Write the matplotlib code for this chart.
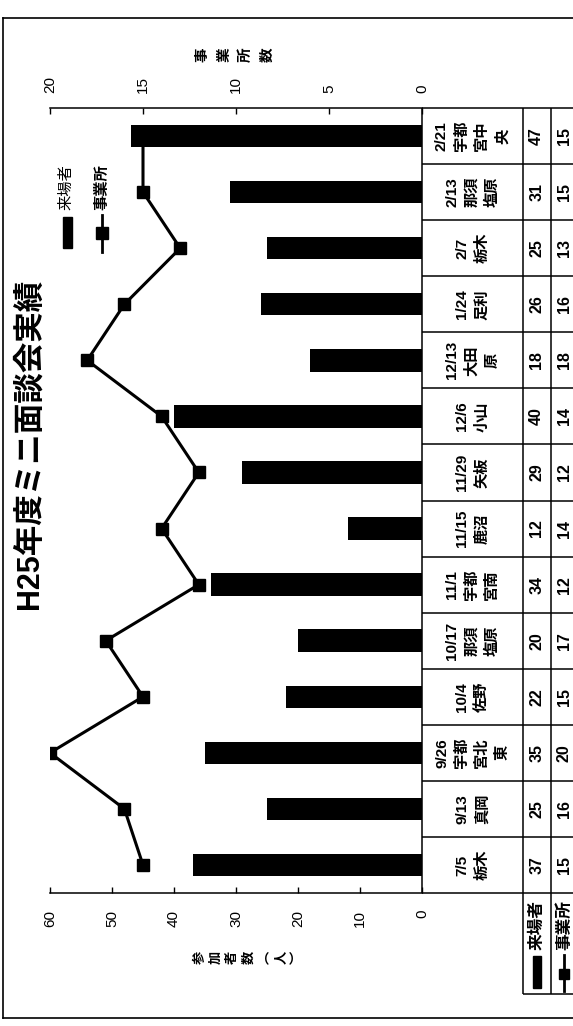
import matplotlib
matplotlib.use("Agg")
import matplotlib.pyplot as plt
from matplotlib.patches import Rectangle
from matplotlib.lines import Line2D
import numpy as np

plt.rcParams["font.family"] = ["Liberation Sans", "Noto Sans CJK JP", "DejaVu Sans"]
JP = ["Noto Sans CJK JP", "DejaVu Sans"]

# data (one column per session, oldest first)
dates = ["7/5", "9/13", "9/26", "10/4", "10/17", "11/1", "11/15",
         "11/29", "12/6", "12/13", "1/24", "2/7", "2/13", "2/21"]
places = ["栃木", "真岡", "宇都\n宮北\n東", "佐野", "那須\n塩原", "宇都\n宮南", "鹿沼",
          "矢板", "小山", "大田\n原", "足利", "栃木", "那須\n塩原", "宇都\n宮中\n央"]
visitors = [37, 25, 35, 22, 20, 34, 12, 29, 40, 18, 26, 25, 31, 47]
offices = [15, 16, 20, 15, 17, 12, 14, 12, 14, 18, 16, 13, 15, 15]

title = "H25年度ミニ面談会実績"
label_visitors = "来場者"
label_offices = "事業所"
axis1_title = "参\n加\n者\n数\n︵\n人\n︶"
axis2_title = "事\n業\n所\n数"

W, H = 573, 1026
fig = plt.figure(figsize=(W / 100, H / 100), dpi=100)


def fx(x):
    return x / W


def fy(y):
    return 1 - y / H


n = len(dates)
pos = np.arange(n)

# main plot area (rotated chart: values run right->left, sessions bottom->top)
top_px, bot_px, left_px, right_px = 108, 893, 50, 422
cat_px = (bot_px - top_px) / n
ax = fig.add_axes([fx(left_px), fy(bot_px), (right_px - left_px) / W, (bot_px - top_px) / H])
ax.barh(pos, visitors, height=0.4, color="black", zorder=3)
ax.set_xlim(60, 0)
ax.set_ylim(-0.5, n - 0.5)
ax.set_xticks(range(0, 61, 10))
ax.set_yticks([])
ax.tick_params(axis="x", direction="in", length=4, width=1, labelrotation=90,
               labelsize=11, pad=12)
for s in ["left", "top", "right"]:
    ax.spines[s].set_visible(False)
ax.spines["bottom"].set_linewidth(1.1)

ax2 = ax.twiny()
ax2.plot(offices, pos, color="black", lw=2.2, marker="s", ms=9, zorder=2)
ax2.set_xlim(20, 0)
ax2.set_xticks(range(0, 21, 5))
ax2.tick_params(axis="x", direction="in", length=4, width=1, labelrotation=90,
                labelsize=11, pad=11)
for s in ["left", "bottom", "right"]:
    ax2.spines[s].set_visible(False)
ax2.spines["top"].set_linewidth(1.1)

# data table on the right
hdr = 1.8
tax = fig.add_axes([fx(right_px), fy(bot_px + hdr * cat_px), (578 - right_px) / W,
                    (bot_px + hdr * cat_px - top_px) / H])
tax.set_xlim(0, 1)
tax.set_ylim(-0.5 - hdr, n - 0.5)
tax.axis("off")
c0, c1, c2, c3 = 0.0, 0.645, 0.825, 1.0
lk = dict(color="black", lw=1.1, clip_on=False)
tax.vlines(c0, -0.5, n - 0.5, **lk)
tax.vlines([c1, c2], -0.5 - hdr, n - 0.5, **lk)
tax.hlines(pos - 0.5, c0, c3, **lk)
tax.hlines(n - 0.5, c0, c3, **lk)
tax.hlines(-0.5 - hdr, c1, c3, **lk)

for i in range(n):
    tax.text((c0 + c1) / 2, pos[i], f"{dates[i]}\n{places[i]}", rotation=90,
             ha="center", va="center", fontsize=11, fontweight="bold",
             linespacing=1.55, family=["Liberation Sans"] + JP)
    tax.text((c1 + c2) / 2, pos[i], str(visitors[i]), rotation=90, ha="center",
             va="center", fontsize=11.5, fontweight="bold")
    tax.text((c2 + c3) / 2, pos[i], str(offices[i]), rotation=90, ha="center",
             va="center", fontsize=11.5, fontweight="bold")

# row headers with legend keys
tax.text((c1 + c2) / 2, -1.07, label_visitors, rotation=90, ha="center", va="center",
         fontsize=12, family=JP, fontweight="bold")
tax.add_patch(Rectangle(((c1 + c2) / 2 - 0.025, -2.2), 0.05, 0.57, color="black"))
tax.text((c2 + c3) / 2, -1.07, label_offices, rotation=90, ha="center", va="center",
         fontsize=12, family=JP, fontweight="bold")
tax.plot([(c2 + c3) / 2] * 2, [-1.6, -2.25], color="black", lw=2, clip_on=False)
tax.plot([(c2 + c3) / 2], [-1.95], color="black", marker="s", ms=7, clip_on=False)

# legend inside the plot
fig.text(fx(66), fy(187), label_visitors, rotation=90, ha="center", va="center",
         fontsize=11, family=JP)
fig.add_artist(Rectangle((fx(63), fy(248)), 9 / W, 31 / H, color="black",
                         transform=fig.transFigure))
fig.text(fx(101), fy(187), label_offices, rotation=90, ha="center", va="center",
         fontsize=11, family=JP, fontweight="bold")
fig.add_artist(Line2D([fx(102), fx(102)], [fy(215), fy(252)], color="black", lw=2,
                      transform=fig.transFigure))
fig.add_artist(Line2D([fx(102)], [fy(233)], color="black", marker="s", ms=8,
                      transform=fig.transFigure))

# titles
fig.text(fx(30), fy(444), title, rotation=90, ha="center", va="center",
         fontsize=22, fontweight="bold", family=["Liberation Sans"] + JP)
fig.text(fx(234), fy(55), axis2_title, rotation=90, ha="center", va="center",
         fontsize=10.5, fontweight="bold", linespacing=1.42, family=JP)
fig.text(fx(248), fy(957), axis1_title, rotation=90, ha="center", va="center",
         fontsize=9.5, fontweight="bold", linespacing=1.2, family=JP)

# outer frame
for xs, ys in [([3, 3], [18, 1018]), ([3, 573], [18, 18]), ([3, 573], [1018, 1018])]:
    fig.add_artist(Line2D([fx(v) for v in xs], [fy(v) for v in ys], color="black",
                          lw=1.2, transform=fig.transFigure))

fig.savefig("out.png", dpi=100)
